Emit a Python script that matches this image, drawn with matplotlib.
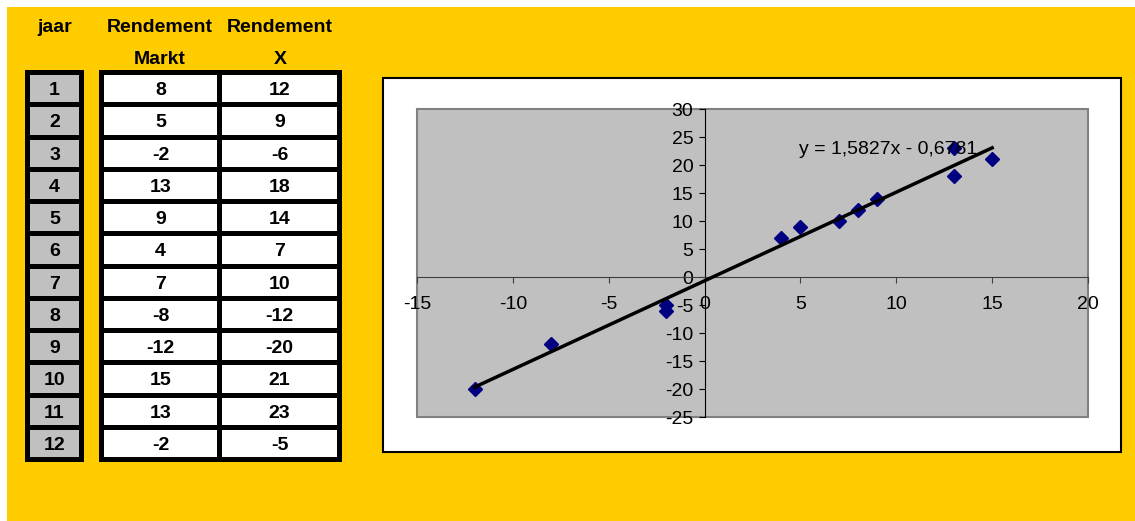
import numpy as np
import matplotlib as mpl
import matplotlib.pyplot as plt
from matplotlib.patches import Rectangle

mpl.rc('font', family='Liberation Sans', size=14)
mpl.rc('axes', unicode_minus=False)

# Data
jaar = [1, 2, 3, 4, 5, 6, 7, 8, 9, 10, 11, 12]
markt = [8, 5, -2, 13, 9, 4, 7, -8, -12, 15, 13, -2]
rend_x = [12, 9, -6, 18, 14, 7, 10, -12, -20, 21, 23, -5]
x_ticks = [-15, -10, -5, 0, 5, 10, 15, 20]
y_ticks = [-25, -20, -15, -10, -5, 0, 5, 10, 15, 20, 25, 30]

yellow = '#FFCC00'
W, H = 1135, 521

fig = plt.figure(figsize=(W / 100, H / 100), dpi=100)
fig.patch.set_facecolor('white')

# background axes in pixel coordinates
bg = fig.add_axes([0, 0, 1, 1])
bg.set_xlim(0, W)
bg.set_ylim(H, 0)
bg.axis('off')
bg.add_patch(Rectangle((7, 7), W - 7, H - 7, fc=yellow, ec='none'))

# headers
bg.text(55, 28, 'jaar', ha='center', va='center', fontweight='bold')
for cx, sub in [(160, 'Markt'), (280, 'X')]:
    bg.text(cx, 28, 'Rendement', ha='center', va='center', fontweight='bold')
    bg.text(cx, 59, sub, ha='center', va='center', fontweight='bold')

# table
top, bot, t = 70, 462, 5
n = len(jaar)
h = (bot - top - t) / n


def column(x0, x1, values, fc):
    for i, v in enumerate(values):
        y0 = top + t + i * h
        bg.add_patch(Rectangle((x0, y0), x1 - x0, h - t, fc=fc, ec='none'))
        bg.text((x0 + x1) / 2, y0 + (h - t) / 2 + 2, str(v), ha='center', va='center',
                fontweight='bold')


bg.add_patch(Rectangle((25, top), 59, bot - top, fc='black', ec='none'))
column(30, 79, jaar, '#C0C0C0')
bg.add_patch(Rectangle((99, top), 243, bot - top, fc='black', ec='none'))
column(104, 217, markt, 'white')
column(222, 337, rend_x, 'white')

# chart box
bg.add_patch(Rectangle((383, 78), 738, 374, fc='white', ec='black', lw=1.5))

# chart
px0, px1, py0, py1 = 417, 1088, 109, 417
ax = fig.add_axes([px0 / W, (H - py1) / H, (px1 - px0) / W, (py1 - py0) / H])
ax.set_facecolor('#C0C0C0')
ax.set_xlim(-15, 20)
ax.set_ylim(-25, 30)
for s in ['top', 'right']:
    ax.spines[s].set_visible(False)
ax.spines['left'].set_position(('data', 0))
ax.spines['bottom'].set_position(('data', 0))
ax.spines['left'].set_color('black')
ax.spines['bottom'].set_color('#404040')
ax.add_patch(Rectangle((0, 0), 1, 1, transform=ax.transAxes, fc='none', ec='#808080',
                       lw=1.5, clip_on=False, zorder=1))
ax.set_xticks(x_ticks)
ax.set_yticks(y_ticks)
ax.tick_params(axis='x', direction='out', length=4, pad=10, labelsize=14, color='#404040')
ax.tick_params(axis='y', direction='out', length=4, pad=4, labelsize=14, color='black')

ax.plot(markt, rend_x, 'D', color='#000080', ms=7, zorder=3)

# trendline
b, a = np.polyfit(markt, rend_x, 1)
xl = np.array([min(markt), max(markt)])
ax.plot(xl, b * xl + a, color='black', lw=2.5, zorder=4)
ax.text(4.9, 22.8, f'y = {b:.4f}x - {abs(a):.4f}'.replace('.', ','), ha='left', va='center',
        fontsize=14, zorder=5)

fig.savefig('out.png', dpi=100)
